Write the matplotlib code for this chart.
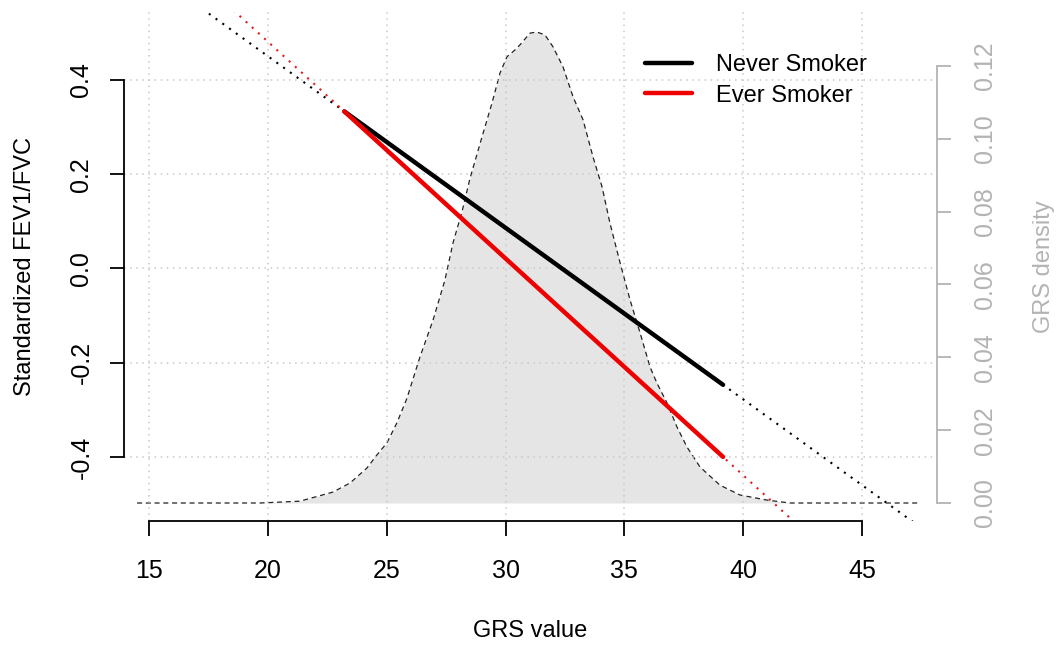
import matplotlib
matplotlib.use('Agg')
import matplotlib.pyplot as plt
import numpy as np

plt.rcParams['font.family'] = ['Liberation Sans', 'DejaVu Sans']
plt.rcParams['font.size'] = 17
plt.rcParams['axes.unicode_minus'] = False

# fitted FEV1/FVC over the observed GRS range
grs_range = [23.22, 39.15]
never_fit = [0.333, -0.247]
ever_fit = [0.333, -0.400]

# GRS density curve
grs_grid = [14.5, 19.67, 21.35, 22.74, 23.46, 24.17, 24.59, 25.01, 25.43, 25.85,
            26.40, 26.95, 27.45, 27.79, 28.17, 28.50, 29.01, 29.43, 29.77, 30.06,
            30.40, 30.61, 31.03, 31.32, 31.66, 32.00, 32.42, 32.84, 33.26, 33.68,
            34.06, 34.39, 34.82, 35.24, 35.66, 36.08, 36.37, 36.79, 37.21, 37.63,
            38.18, 39.02, 39.86, 41.00, 41.97, 47.4]
grs_density = [0.0, 0.0, 0.0005, 0.0030, 0.0055, 0.0096, 0.0132, 0.0165, 0.0220, 0.0287,
               0.0401, 0.0502, 0.0612, 0.0714, 0.0800, 0.0890, 0.1005, 0.1098, 0.1181, 0.1225,
               0.1244, 0.1258, 0.1290, 0.1293, 0.1285, 0.1252, 0.1197, 0.1115, 0.1052, 0.0950,
               0.0868, 0.0769, 0.0659, 0.0557, 0.0467, 0.0373, 0.0329, 0.0275, 0.0209, 0.0154,
               0.0099, 0.0049, 0.0022, 0.0008, 0.0, 0.0]

x_ticks = [15, 20, 25, 30, 35, 40, 45]
y_ticks = [-0.4, -0.2, 0.0, 0.2, 0.4]
dens_ticks = [0.00, 0.02, 0.04, 0.06, 0.08, 0.10, 0.12]

W, H = 1062, 645
fig = plt.figure(figsize=(W / 100, H / 100), dpi=100)
left, right, top, bottom = 124, 937, 12, 521
ax = fig.add_axes([left / W, 1 - bottom / H, (right - left) / W, (bottom - top) / H])
ax2 = ax.twinx()
ax.set_zorder(ax2.get_zorder() + 1)
ax.patch.set_visible(False)

xlim = (13.95, 48.15)
ax.set_xlim(*xlim)
ax.set_ylim(-0.536, 0.544)
ax2.set_ylim(-0.00494, 0.1348)

# density in the background
ax2.fill_between(grs_grid, grs_density, 0, color='#e5e5e5', lw=0)
ax2.plot(grs_grid, grs_density, color='#222222', lw=0.9, ls=(0, (4, 3)))

# grid
ax.set_xticks(x_ticks)
ax.set_yticks(y_ticks)
ax.set_axisbelow(True)
ax.grid(True, ls=(0, (1, 3)), color='#c8c8c8', lw=1.1)

# extended model lines (dotted) and fitted lines (solid)
xx = np.array(xlim)
for fit, col in [(never_fit, 'black'), (ever_fit, '#dd1f1f')]:
    slope = (fit[1] - fit[0]) / (grs_range[1] - grs_range[0])
    ax.plot(xx, fit[0] + slope * (xx - grs_range[0]), color=col, ls=(0, (1, 3)), lw=1.5)
ax.plot(grs_range, never_fit, color='black', lw=3.2, solid_capstyle='round', label='Never Smoker')
ax.plot(grs_range, ever_fit, color='#ee0000', lw=3.2, solid_capstyle='round', label='Ever Smoker')

# axes styling (R-like)
for s in ['top', 'right']:
    ax.spines[s].set_visible(False)
ax.spines['left'].set_bounds(-0.4, 0.4)
ax.spines['bottom'].set_bounds(15, 45)
for s in ['left', 'bottom']:
    ax.spines[s].set_linewidth(1.3)
ax.tick_params(axis='x', direction='out', length=11, width=1.3, pad=16, labelsize=18)
ax.tick_params(axis='y', direction='out', length=10, width=1.3, pad=12, labelsize=18)
ax.set_xticklabels([str(t) for t in x_ticks])
ax.set_yticklabels(['%.1f' % t for t in y_ticks], rotation=90, va='center')
ax.set_xlabel('GRS value', labelpad=27)
ax.set_ylabel('Standardized FEV1/FVC', labelpad=24)

gray = '#b3b3b3'
for s in ['top', 'left', 'bottom']:
    ax2.spines[s].set_visible(False)
ax2.spines['right'].set_bounds(0, 0.12)
ax2.spines['right'].set_color(gray)
ax2.spines['right'].set_linewidth(1.3)
ax2.set_yticks(dens_ticks)
ax2.set_yticklabels(['%.2f' % t for t in dens_ticks], rotation=90, va='center', color=gray)
ax2.tick_params(axis='y', direction='out', length=10, width=1.3, color=gray, pad=16, labelsize=18)
ax2.set_ylabel('GRS density', color=gray, labelpad=26)

ax.legend(loc='upper left', bbox_to_anchor=(645 / W, 1 - 54 / H), bbox_transform=fig.transFigure,
          frameon=False, handlelength=2.0, handletextpad=1.0, labelspacing=0.36,
          borderpad=0, borderaxespad=0)

fig.savefig('out.png', dpi=100)
